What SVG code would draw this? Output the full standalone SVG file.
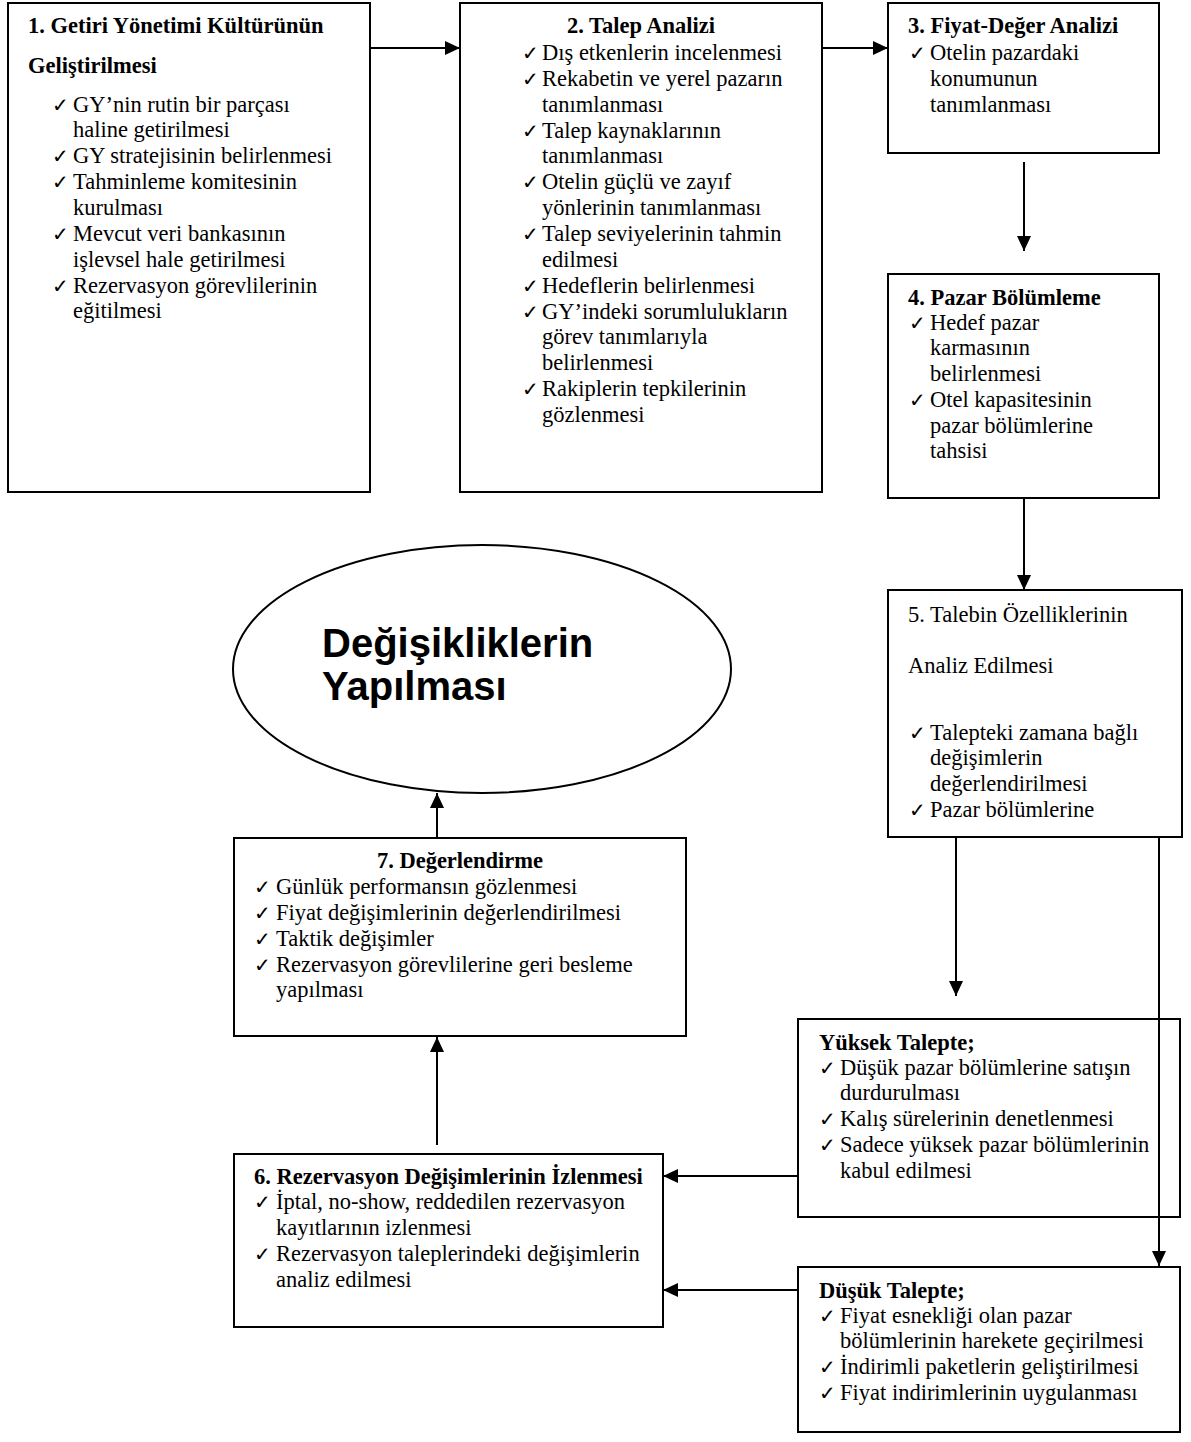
<svg xmlns="http://www.w3.org/2000/svg" width="1191" height="1442" viewBox="0 0 1191 1442">
<style>
.box{fill:#fff;stroke:#000;stroke-width:2}
.t{font-family:"Liberation Serif","Times New Roman",serif;font-size:22.5px;fill:#000}
.b{font-weight:bold}
.ck{font-family:"DejaVu Sans",sans-serif;font-size:20px;fill:#000}
.big{font-family:"Liberation Sans",Arial,sans-serif;font-size:40px;font-weight:bold;fill:#000}
.c{fill:none;stroke:#000;stroke-width:2}
</style>
<defs>
<marker id="ah" markerUnits="userSpaceOnUse" markerWidth="16" markerHeight="14" refX="15" refY="7" orient="auto">
<path d="M0,0 L15,7 L0,14 z" fill="#000"/>
</marker>
</defs>

<g id="connectors">
<line class="c" x1="370" y1="48" x2="460" y2="48" marker-end="url(#ah)"/>
<line class="c" x1="822" y1="48" x2="888" y2="48" marker-end="url(#ah)"/>
<line class="c" x1="1024" y1="162" x2="1024" y2="251" marker-end="url(#ah)"/>
<line class="c" x1="1024" y1="498" x2="1024" y2="590" marker-end="url(#ah)"/>
<line class="c" x1="956" y1="837" x2="956" y2="996" marker-end="url(#ah)"/>
<line class="c" x1="798" y1="1176" x2="663" y2="1176" marker-end="url(#ah)"/>
<line class="c" x1="798" y1="1290" x2="663" y2="1290" marker-end="url(#ah)"/>
<line class="c" x1="437" y1="1145" x2="437" y2="1037" marker-end="url(#ah)"/>
<line class="c" x1="437" y1="838" x2="437" y2="793" marker-end="url(#ah)"/>
</g>

<g id="n1">
<rect class="box" x="8" y="3" width="362" height="489"/>
<text class="t b" x="28" y="33">1. Getiri Yönetimi Kültürünün</text>
<text class="t b" x="28" y="73">Geliştirilmesi</text>
<text class="ck" x="52" y="112">✓</text><text class="t" x="73" y="112">GY’nin rutin bir parçası</text>
<text class="t" x="73" y="137">haline getirilmesi</text>
<text class="ck" x="52" y="163">✓</text><text class="t" x="73" y="163">GY stratejisinin belirlenmesi</text>
<text class="ck" x="52" y="189">✓</text><text class="t" x="73" y="189">Tahminleme komitesinin</text>
<text class="t" x="73" y="215">kurulması</text>
<text class="ck" x="52" y="241">✓</text><text class="t" x="73" y="241">Mevcut veri bankasının</text>
<text class="t" x="73" y="267">işlevsel hale getirilmesi</text>
<text class="ck" x="52" y="293">✓</text><text class="t" x="73" y="293">Rezervasyon görevlilerinin</text>
<text class="t" x="73" y="318">eğitilmesi</text>
</g>

<g id="n2">
<rect class="box" x="460" y="3" width="362" height="489"/>
<text class="t b" x="641" y="33" text-anchor="middle">2. Talep Analizi</text>
<text class="ck" x="522" y="60">✓</text><text class="t" x="542" y="60">Dış etkenlerin incelenmesi</text>
<text class="ck" x="522" y="86">✓</text><text class="t" x="542" y="86">Rekabetin ve yerel pazarın</text>
<text class="t" x="542" y="112">tanımlanması</text>
<text class="ck" x="522" y="138">✓</text><text class="t" x="542" y="138">Talep kaynaklarının</text>
<text class="t" x="542" y="163">tanımlanması</text>
<text class="ck" x="522" y="189">✓</text><text class="t" x="542" y="189">Otelin güçlü ve zayıf</text>
<text class="t" x="542" y="215">yönlerinin tanımlanması</text>
<text class="ck" x="522" y="241">✓</text><text class="t" x="542" y="241">Talep seviyelerinin tahmin</text>
<text class="t" x="542" y="267">edilmesi</text>
<text class="ck" x="522" y="293">✓</text><text class="t" x="542" y="293">Hedeflerin belirlenmesi</text>
<text class="ck" x="522" y="319">✓</text><text class="t" x="542" y="319">GY’indeki sorumlulukların</text>
<text class="t" x="542" y="344">görev tanımlarıyla</text>
<text class="t" x="542" y="370">belirlenmesi</text>
<text class="ck" x="522" y="396">✓</text><text class="t" x="542" y="396">Rakiplerin tepkilerinin</text>
<text class="t" x="542" y="422">gözlenmesi</text>
</g>

<g id="n3">
<rect class="box" x="888" y="3" width="271" height="150"/>
<text class="t b" x="908" y="33">3. Fiyat-Değer Analizi</text>
<text class="ck" x="909" y="60">✓</text><text class="t" x="930" y="60">Otelin pazardaki</text>
<text class="t" x="930" y="86">konumunun</text>
<text class="t" x="930" y="112">tanımlanması</text>
</g>

<g id="n4">
<rect class="box" x="888" y="274" width="271" height="224"/>
<text class="t b" x="908" y="305">4. Pazar Bölümleme</text>
<text class="ck" x="909" y="330">✓</text><text class="t" x="930" y="330">Hedef pazar</text>
<text class="t" x="930" y="355">karmasının</text>
<text class="t" x="930" y="381">belirlenmesi</text>
<text class="ck" x="909" y="407">✓</text><text class="t" x="930" y="407">Otel kapasitesinin</text>
<text class="t" x="930" y="433">pazar bölümlerine</text>
<text class="t" x="930" y="458">tahsisi</text>
</g>

<g id="n5">
<rect class="box" x="888" y="590" width="294" height="247"/>
<text class="t" x="908" y="622">5. Talebin Özelliklerinin</text>
<text class="t" x="908" y="673">Analiz Edilmesi</text>
<text class="ck" x="909" y="740">✓</text><text class="t" x="930" y="740">Talepteki zamana bağlı</text>
<text class="t" x="930" y="765">değişimlerin</text>
<text class="t" x="930" y="791">değerlendirilmesi</text>
<text class="ck" x="909" y="817">✓</text><text class="t" x="930" y="817">Pazar bölümlerine</text>
</g>

<g id="n-yuksek">
<rect class="box" x="798" y="1019" width="382" height="198"/>
<text class="t b" x="819" y="1050">Yüksek Talepte;</text>
<text class="ck" x="819" y="1075">✓</text><text class="t" x="840" y="1075">Düşük pazar bölümlerine satışın</text>
<text class="t" x="840" y="1100">durdurulması</text>
<text class="ck" x="819" y="1126">✓</text><text class="t" x="840" y="1126">Kalış sürelerinin denetlenmesi</text>
<text class="ck" x="819" y="1152">✓</text><text class="t" x="840" y="1152">Sadece yüksek pazar bölümlerinin</text>
<text class="t" x="840" y="1178">kabul edilmesi</text>
</g>

<g id="n-dusuk">
<rect class="box" x="798" y="1267" width="382" height="165"/>
<text class="t b" x="819" y="1298">Düşük Talepte;</text>
<text class="ck" x="819" y="1323">✓</text><text class="t" x="840" y="1323">Fiyat esnekliği olan pazar</text>
<text class="t" x="840" y="1348">bölümlerinin harekete geçirilmesi</text>
<text class="ck" x="819" y="1374">✓</text><text class="t" x="840" y="1374">İndirimli paketlerin geliştirilmesi</text>
<text class="ck" x="819" y="1400">✓</text><text class="t" x="840" y="1400">Fiyat indirimlerinin uygulanması</text>
</g>

<g id="connector-5-dusuk">
<line class="c" x1="1159" y1="837" x2="1159" y2="1266" marker-end="url(#ah)"/>
</g>

<g id="n6">
<rect class="box" x="234" y="1154" width="429" height="173"/>
<text class="t b" x="254" y="1184">6. Rezervasyon Değişimlerinin İzlenmesi</text>
<text class="ck" x="254" y="1209">✓</text><text class="t" x="276" y="1209">İptal, no-show, reddedilen rezervasyon</text>
<text class="t" x="276" y="1235">kayıtlarının izlenmesi</text>
<text class="ck" x="254" y="1261">✓</text><text class="t" x="276" y="1261">Rezervasyon taleplerindeki değişimlerin</text>
<text class="t" x="276" y="1287">analiz edilmesi</text>
</g>

<g id="n7">
<rect class="box" x="234" y="838" width="452" height="198"/>
<text class="t b" x="460" y="868" text-anchor="middle">7. Değerlendirme</text>
<text class="ck" x="254" y="894">✓</text><text class="t" x="276" y="894">Günlük performansın gözlenmesi</text>
<text class="ck" x="254" y="920">✓</text><text class="t" x="276" y="920">Fiyat değişimlerinin değerlendirilmesi</text>
<text class="ck" x="254" y="946">✓</text><text class="t" x="276" y="946">Taktik değişimler</text>
<text class="ck" x="254" y="972">✓</text><text class="t" x="276" y="972">Rezervasyon görevlilerine geri besleme</text>
<text class="t" x="276" y="997">yapılması</text>
</g>

<g id="n-ellipse">
<ellipse cx="482" cy="669" rx="249" ry="124" fill="#fff" stroke="#000" stroke-width="2"/>
<text class="big" x="322" y="657">Değişikliklerin</text>
<text class="big" x="322" y="700">Yapılması</text>
</g>
</svg>
